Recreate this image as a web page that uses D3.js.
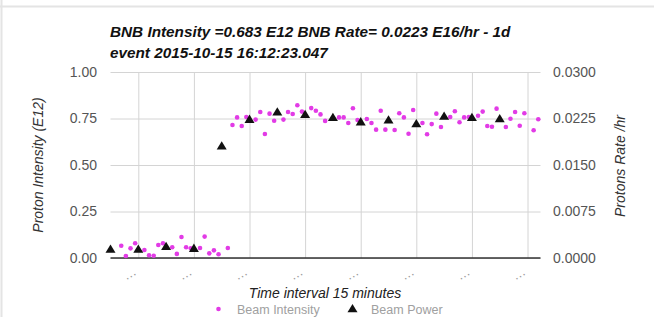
<!DOCTYPE html>
<html><head><meta charset="utf-8">
<script src="https://cdn.jsdelivr.net/npm/d3@7"></script>
<style>
body{margin:0;background:#fff;}
svg{display:block;font-family:Arial,"Liberation Sans",sans-serif;}
</style></head>
<body>
<svg id="c" width="654" height="317"></svg>
<script>
// Beam Intensity (E12), minutes since first sample
const intensityMinutes = [5.8,8.3,10.8,13.3,18.3,20.8,23.3,25.8,28.3,33.3,35.8,38.3,40.8,43.3,48.3,50.8,53.3,55.8,58.3,63.3,
  65.8,68.3,70.8,73.3,78.3,80.8,83.3,85.8,88.3,93.3,95.8,98.3,100.8,103.3,108.3,110.8,113.3,115.8,
  123.3,125.8,128.3,130.8,133.3,138.3,140.8,143.3,145.8,148.3,153.3,155.8,158.3,160.8,163.3,168.3,170.8,173.3,175.8,178.3,
  183.3,185.8,188.3,190.8,193.3,198.3,200.8,203.3,205.8,208.3,213.3,215.8,218.3,220.8,223.3,228.3,230.8];
const intensityValues = [0.066,0.011,0.052,0.079,0.043,0.015,0.012,0.070,0.079,0.058,0.022,0.113,0.058,0.052,0.054,0.115,0.025,0.041,0.020,0.054,
  0.715,0.756,0.710,0.758,0.744,0.785,0.667,0.776,0.738,0.744,0.785,0.774,0.821,0.787,0.806,0.792,0.772,0.737,
  0.756,0.756,0.726,0.805,0.742,0.747,0.726,0.690,0.792,0.690,0.688,0.778,0.756,0.668,0.796,0.726,0.665,0.720,0.776,0.704,
  0.758,0.789,0.730,0.756,0.758,0.765,0.787,0.710,0.706,0.803,0.704,0.749,0.785,0.711,0.778,0.687,0.746];
// Beam Power (E16/hr)
const powerMinutes = [0,15,30,45,60,75,90,105,120,135,150,165,180,195,210];
const powerValues = [0.00144,0.00145,0.0019,0.0016,0.0181,0.0224,0.0236,0.0232,0.0227,0.0220,0.0223,0.0217,0.0229,0.0227,0.0225];
const xTickMinutes = [15,45,75,105,135,165,195,225];
const xTickLabel = "\u2026";
const leftTicks = [0,0.25,0.5,0.75,1.0];
const rightTicks = [0,0.0075,0.015,0.0225,0.03];
const titleLines = ["BNB Intensity =0.683 E12 BNB Rate= 0.0223 E16/hr - 1d","event 2015-10-15 16:12:23.047"];
const legendLabels = ["Beam Intensity","Beam Power"];

const svg = d3.select("#c");
const L=110.5, R=540.5, T=72, B=258;
const x = d3.scaleLinear().domain([0,232]).range([L,R]);
const yL = d3.scaleLinear().domain([0,1]).range([B,T]);
const yR = d3.scaleLinear().domain([0,0.03]).range([B,T]);

// frame lines
svg.append("line").attr("x1",0).attr("x2",654).attr("y1",6.5).attr("y2",6.5).attr("stroke","#e4e4e4").attr("stroke-width",2);
svg.append("line").attr("x1",1.5).attr("x2",1.5).attr("y1",0).attr("y2",317).attr("stroke","#e4e4e4").attr("stroke-width",2);

// title
svg.append("g").selectAll("text").data(titleLines).join("text")
  .attr("x",110).attr("y",(d,i)=>37+i*21)
  .attr("font-size",15.3).attr("font-weight","bold").attr("font-style","italic").attr("fill","#111").text(d=>d);

// horizontal gridlines
const gy = svg.append("g").attr("transform",`translate(${L},0)`)
  .call(d3.axisLeft(yL).tickValues(leftTicks).tickSize(-(R-L)).tickFormat(""));
gy.select(".domain").remove();
gy.selectAll("line").attr("stroke","#d4d4d4");
// vertical gridlines
const gx = svg.append("g").attr("transform",`translate(0,${B})`)
  .call(d3.axisBottom(x).tickValues(xTickMinutes).tickSize(-(B-T)).tickFormat(""));
gx.select(".domain").remove();
gx.selectAll("line").attr("stroke","#d4d4d4");

// left tick labels
const la = svg.append("g").attr("transform",`translate(97,0)`)
  .call(d3.axisLeft(yL).tickValues(leftTicks).tickSize(0).tickPadding(0).tickFormat(d3.format(".2f")));
la.select(".domain").remove();
la.selectAll("text").attr("font-size",14).attr("fill","#555").attr("font-family","Arial, 'Liberation Sans', sans-serif");
// right tick labels
const ra = svg.append("g").attr("transform",`translate(553,0)`)
  .call(d3.axisRight(yR).tickValues(rightTicks).tickSize(0).tickPadding(0).tickFormat(d3.format(".4f")));
ra.select(".domain").remove();
ra.selectAll("text").attr("font-size",14).attr("fill","#555").attr("font-family","Arial, 'Liberation Sans', sans-serif");

// baseline
svg.append("line").attr("x1",L).attr("x2",R).attr("y1",yL(0)).attr("y2",yL(0)).attr("stroke","#333").attr("stroke-width",1.6);

// x tick labels (slanted ellipsis)
svg.append("g").selectAll("text").data(xTickMinutes).join("text")
  .attr("transform",d=>`translate(${x(d)-1},274) rotate(-30)`)
  .attr("text-anchor","end").attr("font-size",13).attr("fill","#999").text(xTickLabel);

// axis titles
svg.append("text").attr("transform",`translate(43,165) rotate(-90)`).attr("text-anchor","middle")
  .attr("font-size",14).attr("font-style","italic").attr("fill","#333").text("Proton Intensity (E12)");
svg.append("text").attr("transform",`translate(625,166) rotate(-90)`).attr("text-anchor","middle")
  .attr("font-size",14).attr("font-style","italic").attr("fill","#333").text("Protons Rate /hr");
svg.append("text").attr("x",325).attr("y",298).attr("text-anchor","middle")
  .attr("font-size",14).attr("font-style","italic").attr("fill","#222").text("Time interval 15 minutes");

const pink = "#e23be6";
const tri = (cx,cy)=>`M${cx},${cy-4.5}L${cx+5},${cy+3.8}L${cx-5},${cy+3.8}Z`;

// intensity dots
svg.append("g").selectAll("circle").data(intensityMinutes.map((t,i)=>[t,intensityValues[i]])).join("circle")
  .attr("cx",d=>x(d[0])).attr("cy",d=>yL(d[1])).attr("r",2.3).attr("fill",pink);
// power triangles
svg.append("g").selectAll("path").data(powerMinutes.map((t,i)=>[t,powerValues[i]])).join("path")
  .attr("d",d=>tri(x(d[0]),yR(d[1]))).attr("fill","#111");

// legend
const lg = svg.append("g");
lg.append("circle").attr("cx",218.5).attr("cy",309).attr("r",2.3).attr("fill",pink);
lg.append("text").attr("x",237).attr("y",313.5).attr("font-size",12.5).attr("fill","#a0a0a0").text(legendLabels[0]);
lg.append("path").attr("d",tri(352.5,308.5)).attr("fill","#111");
lg.append("text").attr("x",371).attr("y",313.5).attr("font-size",12.5).attr("fill","#a0a0a0").text(legendLabels[1]);
</script>
</body></html>
